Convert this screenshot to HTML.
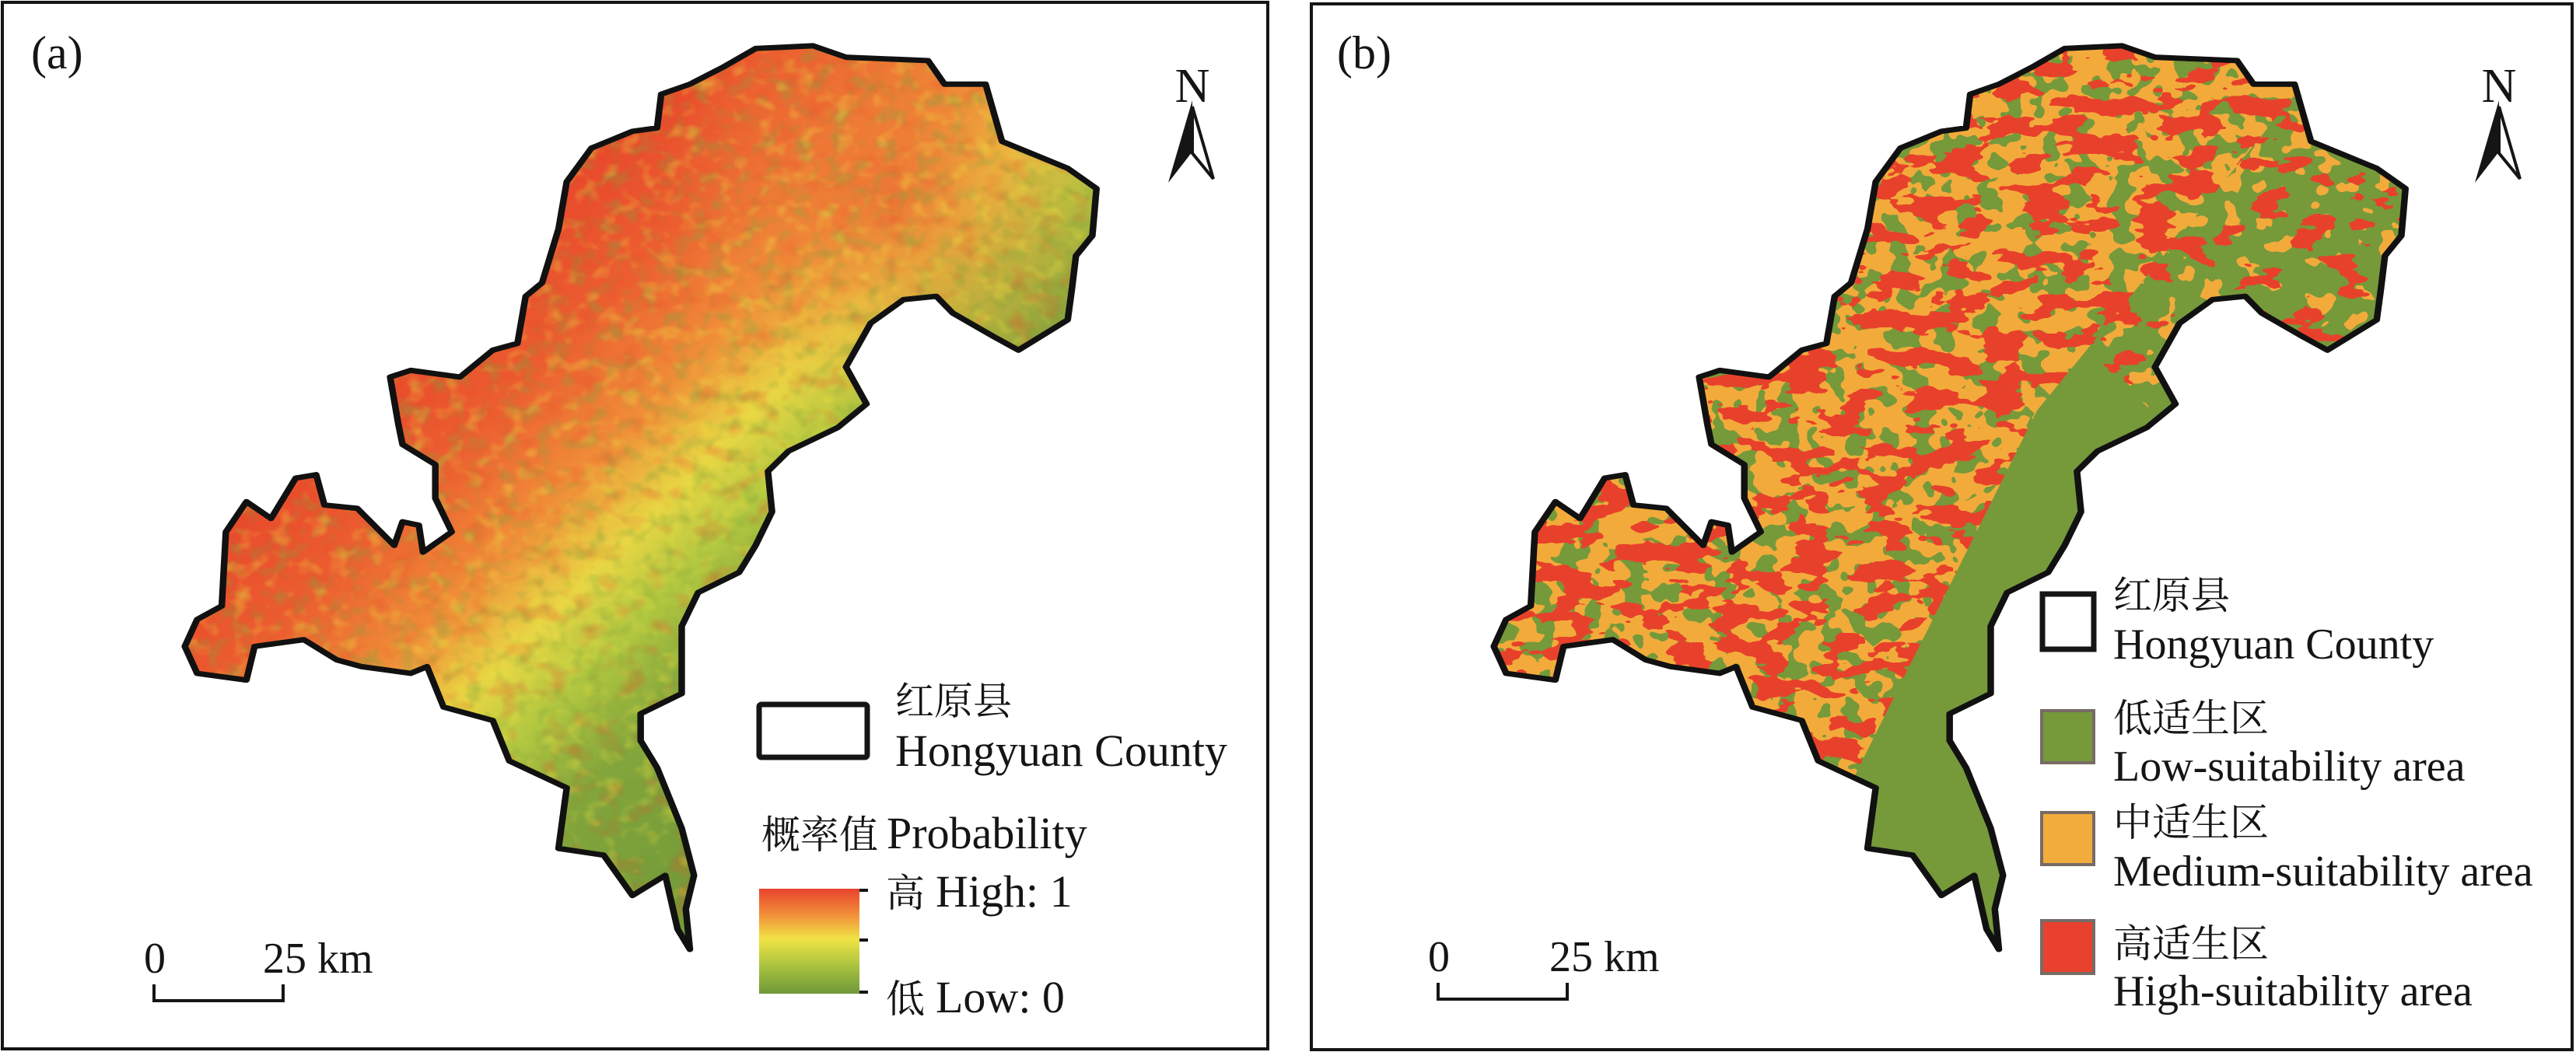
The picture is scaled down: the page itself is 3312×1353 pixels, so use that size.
<!DOCTYPE html>
<html><head><meta charset="utf-8"><style>
html,body{margin:0;padding:0;background:#fff;}
svg{display:block;}
text{font-family:"Liberation Serif","Times New Roman",Times,"DejaVu Serif",serif;fill:#151515;}
.cj{font-family:"Noto Serif CJK SC","Noto Sans CJK SC",serif;}
</style></head><body>
<svg width="3312" height="1353" viewBox="0 0 3312 1353" xmlns="http://www.w3.org/2000/svg">
<defs>
<path id="shape" d="M920,72 L990,68 L1030,85 L1130,90 L1150,125 L1200,125 L1220,210 L1270,235 L1300,250 L1335,280 L1330,350 L1310,380 L1305,430 L1300,475 L1240,520 L1210,500 L1160,465 L1140,440 L1100,445 L1060,480 L1030,545 L1055,600 L1020,635 L960,670 L935,700 L940,760 L920,810 L900,850 L850,880 L830,930 L830,1030 L780,1060 L780,1100 L800,1140 L830,1230 L845,1300 L835,1350 L840,1410 L825,1380 L810,1300 L770,1330 L735,1270 L680,1260 L690,1170 L620,1130 L600,1070 L540,1050 L520,990 L500,1000 L440,990 L410,980 L370,950 L310,960 L300,1010 L240,1000 L225,960 L240,920 L270,900 L275,790 L300,745 L330,770 L360,710 L385,705 L395,750 L435,755 L480,810 L490,775 L510,780 L515,820 L550,790 L530,740 L530,690 L490,660 L485,630 L475,560 L500,550 L560,560 L600,520 L630,510 L640,440 L660,420 L680,340 L690,270 L720,220 L770,195 L800,190 L805,140 L840,125 L880,100 Z"/>
<clipPath id="clipA"><use href="#shape" transform="scale(1.056,0.866)"/></clipPath>
<clipPath id="clipB"><use href="#shape" transform="translate(1683,0) scale(1.056,0.866)"/></clipPath>
<linearGradient id="ga" gradientUnits="userSpaceOnUse" x1="500" y1="400" x2="1100" y2="1000">
<stop offset="0" stop-color="#e8432b"/><stop offset="0.22" stop-color="#ec5e30"/>
<stop offset="0.38" stop-color="#f08e38"/><stop offset="0.5" stop-color="#e8d644"/>
<stop offset="0.6" stop-color="#b2c840"/><stop offset="0.72" stop-color="#84a63c"/><stop offset="1" stop-color="#6f9839"/>
</linearGradient>
<radialGradient id="gne" gradientUnits="userSpaceOnUse" cx="1150" cy="250" r="300">
<stop offset="0" stop-color="#ec6a33" stop-opacity="0.8"/><stop offset="1" stop-color="#f0a03c" stop-opacity="0"/>
</radialGradient>
<filter id="tex" x="0" y="0" width="1700" height="1353" filterUnits="userSpaceOnUse" color-interpolation-filters="sRGB">
<feTurbulence type="fractalNoise" baseFrequency="0.045 0.05" numOctaves="2" seed="5"/>
<feColorMatrix type="matrix" values="0 0 0 0 0.5  0 0 0 0 0.64  0 0 0 0 0.23  2.5 0 0 0 -1.2"/>
</filter>
<filter id="tex2" x="0" y="0" width="1700" height="1353" filterUnits="userSpaceOnUse" color-interpolation-filters="sRGB">
<feTurbulence type="fractalNoise" baseFrequency="0.04 0.05" numOctaves="2" seed="9"/>
<feColorMatrix type="matrix" values="0 0 0 0 0.93  0 0 0 0 0.88  0 0 0 0 0.26  2.5 0 0 0 -1.3"/>
</filter>
<filter id="tex3" x="0" y="0" width="1700" height="1353" filterUnits="userSpaceOnUse" color-interpolation-filters="sRGB">
<feTurbulence type="fractalNoise" baseFrequency="0.03 0.04" numOctaves="2" seed="21"/>
<feColorMatrix type="matrix" values="0 0 0 0 0.91  0 0 0 0 0.3  0 0 0 0 0.17  2.5 0 0 0 -1.3"/>
</filter>
<mask id="mk" maskUnits="userSpaceOnUse" x="1683" y="0" width="1629" height="1353">
<polygon points="1683,0 3050,0 2683,450 2619,528 2387,993 2283,1200 1683,1200" fill="#fff"/>
</mask>
<mask id="mk2" maskUnits="userSpaceOnUse" x="1683" y="0" width="1629" height="1353">
<polygon points="2683,450 3050,0 3312,0 3312,560 2800,560" fill="#fff"/>
</mask>
<filter id="fg" x="1683" y="0" width="1629" height="1353" filterUnits="userSpaceOnUse" color-interpolation-filters="sRGB">
<feTurbulence type="fractalNoise" baseFrequency="0.035 0.04" numOctaves="2" seed="3"/>
<feColorMatrix type="matrix" values="0 0 0 0 0.463  0 0 0 0 0.6  0 0 0 0 0.227  1 0 0 0 0"/>
<feComponentTransfer><feFuncA type="discrete" tableValues="0 0 0 0 0 0 0 1 1 1 1 1 1"/></feComponentTransfer>
</filter>
<filter id="fg2" x="1683" y="0" width="1629" height="1353" filterUnits="userSpaceOnUse" color-interpolation-filters="sRGB">
<feTurbulence type="fractalNoise" baseFrequency="0.035 0.04" numOctaves="2" seed="3"/>
<feColorMatrix type="matrix" values="0 0 0 0 0.463  0 0 0 0 0.6  0 0 0 0 0.227  1 0 0 0 0"/>
<feComponentTransfer><feFuncA type="discrete" tableValues="0 0 0 0 0 1 1 1 1 1 1 1 1"/></feComponentTransfer>
</filter>
<filter id="fr" x="1683" y="0" width="1629" height="1353" filterUnits="userSpaceOnUse" color-interpolation-filters="sRGB">
<feTurbulence type="fractalNoise" baseFrequency="0.02 0.04" numOctaves="3" seed="11"/>
<feColorMatrix type="matrix" values="0 0 0 0 0.91  0 0 0 0 0.255  0 0 0 0 0.17  1 0 0 0 0"/>
<feComponentTransfer><feFuncA type="discrete" tableValues="0 0 0 0 0 0 0 1 1 1 1 1 1"/></feComponentTransfer>
</filter>
<filter id="fr2" x="1683" y="0" width="1629" height="1353" filterUnits="userSpaceOnUse" color-interpolation-filters="sRGB">
<feTurbulence type="fractalNoise" baseFrequency="0.02 0.04" numOctaves="3" seed="11"/>
<feColorMatrix type="matrix" values="0 0 0 0 0.91  0 0 0 0 0.255  0 0 0 0 0.17  1 0 0 0 0"/>
<feComponentTransfer><feFuncA type="discrete" tableValues="0 0 0 0 0 0 0 0 1 1 1 1 1"/></feComponentTransfer>
</filter>
<linearGradient id="gbar" x1="0" y1="0" x2="0" y2="1">
<stop offset="0" stop-color="#e8432c"/><stop offset="0.25" stop-color="#f2903a"/>
<stop offset="0.48" stop-color="#f0e444"/><stop offset="0.75" stop-color="#a6c03e"/><stop offset="1" stop-color="#6f9839"/>
</linearGradient>
</defs>

<rect x="3" y="3" width="1627" height="1346" fill="none" stroke="#151515" stroke-width="4"/>
<rect x="1686" y="5" width="1621" height="1345" fill="none" stroke="#151515" stroke-width="4"/>

<!-- map a -->
<g clip-path="url(#clipA)">
<rect x="0" y="0" width="1700" height="1353" fill="url(#ga)"/>
<rect x="0" y="0" width="1700" height="1353" fill="url(#gne)"/>
<rect x="0" y="0" width="1700" height="1353" filter="url(#tex)" opacity="0.45"/>
<rect x="0" y="0" width="1700" height="1353" filter="url(#tex2)" opacity="0.5"/>
<rect x="0" y="0" width="1700" height="1353" filter="url(#tex3)" opacity="0.4"/>
</g>
<use href="#shape" transform="scale(1.056,0.866)" fill="none" stroke="#111" stroke-width="8" vector-effect="non-scaling-stroke" stroke-linejoin="round"/>

<!-- map b -->
<g clip-path="url(#clipB)">
<rect x="1683" y="0" width="1629" height="1353" fill="#76993a"/>
<g mask="url(#mk)">
<rect x="1683" y="0" width="1629" height="1353" fill="#f2ab3b"/>
<rect x="1683" y="0" width="1629" height="1353" filter="url(#fg)"/>
<rect x="1683" y="0" width="1629" height="1353" filter="url(#fr)"/>
</g>
<g mask="url(#mk2)">
<rect x="1683" y="0" width="1629" height="1353" fill="#f2ab3b"/>
<rect x="1683" y="0" width="1629" height="1353" filter="url(#fg2)"/>
<rect x="1683" y="0" width="1629" height="1353" filter="url(#fr2)"/>
</g>
</g>
<use href="#shape" transform="translate(1683,0) scale(1.056,0.866)" fill="none" stroke="#111" stroke-width="8" vector-effect="non-scaling-stroke" stroke-linejoin="round"/>

<text x="40" y="88" font-size="60">(a)</text>
<text x="1719" y="88" font-size="60">(b)</text>

<g>
<text x="1533" y="131" font-size="62" text-anchor="middle">N</text>
<polygon points="1533,129 1502,235 1533,195" fill="#151515"/>
<polygon points="1533,137 1560,230 1533,197" fill="#fff" stroke="#151515" stroke-width="4"/>
</g>
<g transform="translate(1680,0)">
<text x="1533" y="131" font-size="62" text-anchor="middle">N</text>
<polygon points="1533,129 1502,235 1533,195" fill="#151515"/>
<polygon points="1533,137 1560,230 1533,197" fill="#fff" stroke="#151515" stroke-width="4"/>
</g>

<text x="185" y="1251" font-size="56">0</text>
<text x="338" y="1251" font-size="56">25 km</text>
<polyline points="198,1266 198,1287 364,1287 364,1266" fill="none" stroke="#151515" stroke-width="4"/>
<text x="1836" y="1249" font-size="56">0</text>
<text x="1992" y="1249" font-size="56">25 km</text>
<polyline points="1849,1264 1849,1285 2015,1285 2015,1264" fill="none" stroke="#151515" stroke-width="4"/>

<rect x="976" y="906" width="139" height="68" fill="#fff" stroke="#151515" stroke-width="7" rx="3"/>
<text x="1151" y="919" font-size="50" class="cj">红原县</text>
<text x="1151" y="985" font-size="58">Hongyuan County</text>
<text x="979" y="1091" font-size="50" class="cj">概率值</text>
<text x="1140" y="1091" font-size="58">Probability</text>
<rect x="976" y="1143" width="129" height="135" fill="url(#gbar)"/>
<g stroke="#151515" stroke-width="4">
<line x1="1105" y1="1145" x2="1116" y2="1145"/><line x1="1105" y1="1209" x2="1116" y2="1209"/><line x1="1105" y1="1276" x2="1116" y2="1276"/>
</g>
<text x="1139" y="1166" font-size="50" class="cj">高</text>
<text x="1203" y="1166" font-size="58">High: 1</text>
<text x="1139" y="1302" font-size="50" class="cj">低</text>
<text x="1203" y="1302" font-size="58">Low: 0</text>

<rect x="2626" y="764" width="66" height="71" fill="#fff" stroke="#151515" stroke-width="7"/>
<text x="2717" y="783" font-size="50" class="cj">红原县</text>
<text x="2717" y="847" font-size="56">Hongyuan County</text>
<rect x="2625" y="914" width="67" height="67" fill="#76993a" stroke="#776b66" stroke-width="4"/>
<text x="2717" y="941" font-size="50" class="cj">低适生区</text>
<text x="2717" y="1004" font-size="56">Low-suitability area</text>
<rect x="2625" y="1045" width="67" height="67" fill="#f2ac3c" stroke="#776b66" stroke-width="4"/>
<text x="2717" y="1075" font-size="50" class="cj">中适生区</text>
<text x="2717" y="1139" font-size="56">Medium-suitability area</text>
<rect x="2625" y="1184" width="67" height="68" fill="#e8412e" stroke="#776b66" stroke-width="4"/>
<text x="2717" y="1231" font-size="50" class="cj">高适生区</text>
<text x="2717" y="1293" font-size="56">High-suitability area</text>
</svg>
</body></html>
